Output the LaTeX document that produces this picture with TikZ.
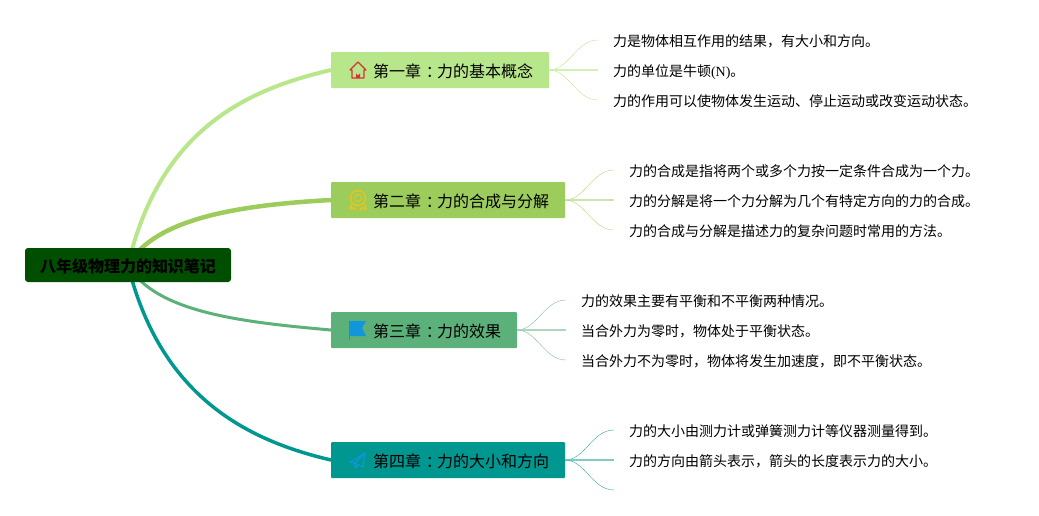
\documentclass[tikz,border=0pt]{standalone}
\usepackage{fontspec}
\setmainfont{Liberation Serif}
\newfontfamily\cjk{Noto Sans CJK SC}
\usetikzlibrary{positioning,backgrounds}
\definecolor{rootgreen}{HTML}{004F00}
\definecolor{chone}{HTML}{B8E68A}
\definecolor{chtwo}{HTML}{9CCC5C}
\definecolor{chthree}{HTML}{5CB07A}
\definecolor{chfour}{HTML}{009790}
\definecolor{iconblue}{HTML}{1296DB}
\definecolor{iconred}{HTML}{D4313C}
\definecolor{iconyellow}{HTML}{E3C51E}
\newcommand{\midcolon}{\hspace*{.3em}：\hspace*{-.3em}}
\tikzset{
houseicon/.pic={
  \draw[iconred, line width=1.1, line join=round] (-8,0) -- (0,-8) -- (8,0) -- (6,0) -- (6,8) -- (-6,8) -- (-6,0) -- cycle;
  \fill[iconred] (-2,8) -- (-2,3) arc[start angle=180, end angle=0, radius=2] -- (2,8) -- cycle;
},
medalicon/.pic={
  \draw[iconyellow, line width=1.5] (0,-2) circle[radius=7.5];
  \draw[iconyellow, line width=1.2] (0,-2) circle[radius=3.5];
  \draw[iconyellow, line width=1.8, line join=round] (-6,4) -- (-8,9) -- (-4,8) -- (-2,10);
  \draw[iconyellow, line width=1.8, line join=round] (6,4) -- (8,9) -- (4,8) -- (2,10);
},
flagicon/.pic={
  \fill[iconblue] (-9,-9) -- (8,-9) -- (4,-2) -- (8,6) -- (-9,6) -- cycle;
  \draw[iconblue, line width=0.8] (-9,-9) -- (-9,10);
},
planeicon/.pic={
  \draw[iconblue, line width=1.1, line join=round] (7,-7) -- (-8,2) -- (-3,3) -- (7,-7) -- (5,7) -- (-3,3) -- (-3,8) -- (0,5);
}
}
\begin{document}
\begin{tikzpicture}[x=1pt, y=-1pt, outer sep=0pt,
rootnode/.style={rectangle, rounded corners=3pt, fill=rootgreen, minimum width=206pt, minimum height=34pt, inner sep=0pt, text height=15pt, text depth=1pt, font=\cjk\bfseries\fontsize{16}{20}\selectfont},
chapternode/.style={rectangle, rounded corners=1pt, inner xsep=16pt, inner ysep=0pt, minimum height=36pt, text height=15pt, text depth=1pt, font=\cjk\fontsize{16}{20}\selectfont},
leafnode/.style={rectangle, inner xsep=15pt, inner ysep=0pt, minimum height=20pt, text height=13pt, text depth=1pt, font=\cjk\fontsize{14}{18}\selectfont},
branchline/.style={line width=#1},
]
\useasboundingbox (0,0) rectangle (1039,515);

%Nodes
\node[rootnode]                    (root)  at (128,265)    {八年级物理力的知识笔记};
\node[chapternode, fill=chone, anchor=west]   (ch1)  at (331,70)    {\hspace*{26pt}第一章\midcolon 力的基本概念};
\node[chapternode, fill=chtwo]     (ch2)   [below=94pt of ch1.south west, anchor=north west]  {\hspace*{26pt}第二章\midcolon 力的合成与分解};
\node[chapternode, fill=chthree]   (ch3)   [below=94pt of ch2.south west, anchor=north west]  {\hspace*{26pt}第三章\midcolon 力的效果};
\node[chapternode, fill=chfour]    (ch4)   [below=94pt of ch3.south west, anchor=north west]  {\hspace*{26pt}第四章\midcolon 力的大小和方向};

\node[leafnode]   (a2)   [right=49pt of ch1]   {力的单位是牛顿{\rmfamily (N)}。};
\node[leafnode]   (a1)   [above=10pt of a2.north west, anchor=south west]    {力是物体相互作用的结果，有大小和方向。};
\node[leafnode]   (a3)   [below=10pt of a2.south west, anchor=north west]    {力的作用可以使物体发生运动、停止运动或改变运动状态。};
\node[leafnode]   (b2)   [right=49pt of ch2]   {力的分解是将一个力分解为几个有特定方向的力的合成。};
\node[leafnode]   (b1)   [above=10pt of b2.north west, anchor=south west]    {力的合成是指将两个或多个力按一定条件合成为一个力。};
\node[leafnode]   (b3)   [below=10pt of b2.south west, anchor=north west]    {力的合成与分解是描述力的复杂问题时常用的方法。};
\node[leafnode]   (c2)   [right=49pt of ch3]   {当合外力为零时，物体处于平衡状态。};
\node[leafnode]   (c1)   [above=10pt of c2.north west, anchor=south west]    {力的效果主要有平衡和不平衡两种情况。};
\node[leafnode]   (c3)   [below=10pt of c2.south west, anchor=north west]    {当合外力不为零时，物体将发生加速度，即不平衡状态。};
\node[leafnode]   (d2)   [right=49pt of ch4]   {力的方向由箭头表示，箭头的长度表示力的大小。};
\node[leafnode]   (d1)   [above=10pt of d2.north west, anchor=south west]    {力的大小由测力计或弹簧测力计等仪器测量得到。};
\coordinate       (d3)   at ([yshift=-30pt]d2.west);

%Icons
\pic at ([xshift=27pt]ch1.west) {houseicon};
\pic at ([xshift=27pt]ch2.west) {medalicon};
\pic at ([xshift=27pt]ch3.west) {flagicon};
\pic at ([xshift=27pt]ch4.west) {planeicon};

%Lines
\begin{scope}[on background layer]
\draw[branchline=4, chone]     (root.center) .. controls (160,130) and (245,90) .. (ch1.west);
\draw[branchline=4.5, chtwo]   (root.center) .. controls (155,218) and (240,205) .. (ch2.west);
\draw[branchline=3, chthree]   (root.center) .. controls (155,312) and (240,322) .. (ch3.west);
\draw[branchline=3.5, chfour]  (root.center) .. controls (160,395) and (245,440) .. (ch4.west);
\end{scope}

\draw[chone]            (ch1.east) .. controls +(20,0) and +(-22,0) .. (a1.west);
\draw[chone!60, line width=2]  (ch1.east) -- (a2.west);
\draw[chone]            (ch1.east) .. controls +(20,0) and +(-22,0) .. (a3.west);
\draw[chtwo!80]         (ch2.east) .. controls +(20,0) and +(-22,0) .. (b1.west);
\draw[chtwo!50, line width=2]  (ch2.east) -- (b2.west);
\draw[chtwo!80]         (ch2.east) .. controls +(20,0) and +(-22,0) .. (b3.west);
\draw[chthree!80]       (ch3.east) .. controls +(20,0) and +(-22,0) .. (c1.west);
\draw[chthree!50, line width=2] (ch3.east) -- (c2.west);
\draw[chthree!80]       (ch3.east) .. controls +(20,0) and +(-22,0) .. (c3.west);
\draw[chfour!85]        (ch4.east) .. controls +(20,0) and +(-22,0) .. (d1.west);
\draw[chfour!50, line width=2]  (ch4.east) -- (d2.west);
\draw[chfour!85]        (ch4.east) .. controls +(20,0) and +(-22,0) .. (d3);

\end{tikzpicture}
\end{document}
